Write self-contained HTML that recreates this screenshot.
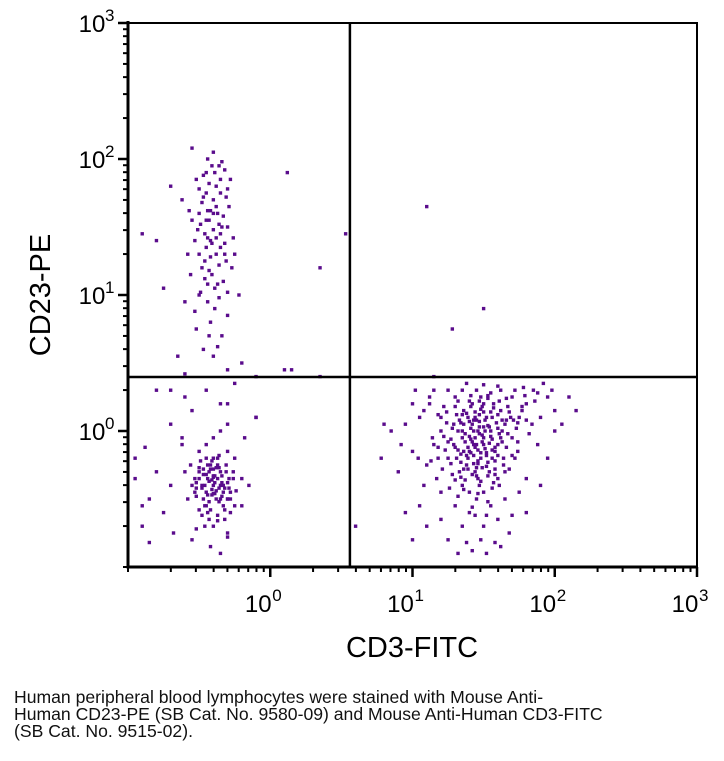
<!DOCTYPE html>
<html><head><meta charset="utf-8">
<style>
body{margin:0;background:#fff;width:724px;height:761px;overflow:hidden;font-family:"Liberation Sans",sans-serif;}
#cap{position:absolute;left:14px;top:689px;font-size:17.6px;line-height:17px;color:#111;white-space:nowrap;}
</style></head>
<body>
<svg id="chart" width="724" height="690" style="position:absolute;left:0;top:0"></svg>
<div id="cap">Human peripheral blood lymphocytes were stained with Mouse Anti-<br>Human CD23-PE (SB Cat. No. 9580-09) and Mouse Anti-Human CD3-FITC<br>(SB Cat. No. 9515-02).</div>
<script>
// log10 coordinates [x, y, x, y, ...]
const cd23Pos = [-0.45,1.9,-0.4,2.05,-0.5,1.6,-0.35,1.75,-0.42,1.4,-0.3,1.5,-0.48,1.2,-0.38,1.3,-0.55,1.55,-0.33,1.1,-0.44,0.95,-0.4,1.7,-0.28,1.85,-0.52,1.85,-0.36,1.95,-0.46,1.45,-0.31,1.25,-0.39,1.05,-0.5,1.0,-0.42,0.8,-0.34,0.7,-0.47,0.6,-0.25,1.3,-0.58,1.3,-0.62,1.7,-0.37,1.6,-0.43,1.55,-0.41,1.15,-0.29,1.65,-0.53,1.4,-0.45,1.75,-0.35,1.35,-0.38,1.8,-0.48,1.68,-0.32,1.92,-0.44,2.0,-0.26,1.42,-0.56,1.15,-0.4,1.48,-0.36,1.22,-0.5,1.3,-0.44,1.62,-0.33,1.58,-0.47,1.88,-0.39,0.9,-0.3,0.85,-0.52,0.75,-0.22,1.0,-0.6,0.95,-0.7,1.8,-0.8,1.4,-0.75,1.05,-0.65,0.55,-0.4,0.55,-0.3,0.45,-0.2,0.5,-0.55,2.08,-0.42,1.28,-0.35,1.45,-0.45,1.35,-0.38,1.65,-0.49,1.52,-0.31,1.72,-0.43,1.82,-0.37,1.08,-0.46,1.12,-0.34,1.98,-0.27,1.2,-0.57,1.62,-0.41,1.95,-0.36,1.52,-0.5,1.78,-0.44,1.42,-0.32,1.38,-0.4,1.6,-0.46,1.25,-0.3,1.02,-0.53,0.88,-0.43,0.7,-0.37,0.62,0.12,1.9,0.35,1.2,0.53,1.45,-0.9,1.45,-0.1,0.4,0.15,0.45,-0.41,1.38,-0.34,1.5,-0.47,1.72,-0.39,1.9,-0.43,1.18,-0.36,0.98,-0.49,1.02,-0.32,1.3,-0.45,1.55,-0.38,1.42,-0.42,1.62,-0.3,1.78,-0.51,1.48,-0.35,1.85,-0.44,1.08];
const cd3Pos = [1.1,1.65,1.28,0.75,1.5,0.9,1.15,0.4];
const dblNeg = [-0.4,-0.4,-0.35,-0.3,-0.45,-0.45,-0.38,-0.5,-0.42,-0.25,-0.3,-0.38,-0.5,-0.35,-0.33,-0.55,-0.47,-0.28,-0.4,-0.2,-0.36,-0.42,-0.44,-0.6,-0.28,-0.45,-0.52,-0.48,-0.39,-0.33,-0.41,-0.36,-0.34,-0.48,-0.46,-0.4,-0.37,-0.25,-0.43,-0.3,-0.31,-0.3,-0.49,-0.22,-0.55,-0.4,-0.25,-0.55,-0.32,-0.65,-0.4,-0.7,-0.48,-0.62,-0.58,-0.5,-0.6,-0.3,-0.25,-0.2,-0.2,-0.35,-0.3,-0.15,-0.45,-0.1,-0.4,-0.05,-0.5,-0.15,-0.35,0.0,-0.62,-0.1,-0.7,-0.4,-0.75,-0.6,-0.8,-0.3,-0.85,-0.5,-0.9,-0.7,-0.95,-0.2,-0.68,-0.75,-0.55,-0.8,-0.42,-0.85,-0.35,-0.9,-0.3,-0.75,-0.2,-0.55,-0.15,-0.4,-0.18,-0.05,-0.1,0.1,-0.3,0.2,-0.55,0.15,-0.45,0.3,-0.25,0.35,-0.6,0.25,-0.7,0.05,-0.4,-0.33,-0.38,-0.44,-0.43,-0.52,-0.36,-0.27,-0.41,-0.47,-0.29,-0.42,-0.47,-0.32,-0.35,-0.5,-0.39,-0.38,-0.32,-0.58,-0.45,-0.55,-0.5,-0.27,-0.26,-0.35,-0.37,-0.2,-0.48,-0.4,-0.34,-0.38,-0.44,-0.35,-0.28,-0.5,-0.52,-0.42,-0.42,-0.28,-0.4,-0.46,-0.33,-0.4,-0.53,-0.35,-0.24,-0.44,-0.3,-0.5,-0.45,-0.2,-0.37,-0.66,-0.46,-0.7,-0.3,-0.78,-0.52,-0.72,-0.9,-0.55,-0.95,-0.35,-0.85,-0.82,-0.88,-0.12,-0.62,-0.05,-0.3,0.05,-0.1,0.1,0.35,0.4,-0.6,0.42,-0.7,0.3,-0.35,0.2,0.1,0.45,-0.8,0.3,-0.41,-0.43,-0.37,-0.35,-0.43,-0.37,-0.39,-0.46,-0.35,-0.4,-0.45,-0.32,-0.33,-0.45,-0.47,-0.5,-0.4,-0.28,-0.36,-0.52,-0.42,-0.58,-0.3,-0.5,-0.48,-0.42,-0.38,-0.27,-0.44,-0.25,-0.34,-0.33,-0.5,-0.3,-0.29,-0.35,-0.46,-0.55,-0.52,-0.38,-0.37,-0.62,-0.41,-0.22,-0.32,-0.42,-0.26,-0.3,-0.53,-0.45,-0.43,-0.65,-0.36,-0.18,-0.5,-0.58,-0.28,-0.6,-0.56,-0.25,-0.4,-0.34,-0.44,-0.47,-0.31,-0.25];
const cd3Neg23 = [1.45,-0.1,1.5,-0.05,1.4,-0.15,1.55,0.0,1.35,-0.05,1.48,-0.2,1.42,0.05,1.6,-0.1,1.3,-0.12,1.52,0.1,1.38,-0.25,1.58,-0.22,1.46,0.0,1.33,0.08,1.65,0.05,1.25,-0.2,1.44,-0.3,1.54,-0.3,1.36,0.15,1.62,0.15,1.7,-0.05,1.2,0.0,1.5,0.2,1.4,0.22,1.28,-0.32,1.6,-0.35,1.47,-0.4,1.35,-0.4,1.75,0.1,1.15,-0.1,1.18,0.12,1.72,-0.2,1.8,0.2,1.55,0.28,1.3,0.25,1.1,-0.25,1.45,-0.5,1.55,-0.55,1.4,-0.6,1.5,-0.7,1.6,-0.65,1.35,-0.7,1.48,-0.8,1.58,-0.82,1.42,-0.88,1.3,-0.55,1.65,-0.5,1.68,-0.75,1.25,-0.8,1.85,0.3,1.9,0.1,1.95,0.25,2.0,0.15,1.05,0.1,1.0,-0.15,0.95,0.05,0.9,-0.3,1.08,-0.4,1.12,0.25,1.42,-0.08,1.51,-0.13,1.37,-0.02,1.47,0.07,1.56,-0.06,1.43,-0.18,1.34,-0.17,1.61,-0.02,1.53,0.04,1.39,0.1,1.49,-0.27,1.58,-0.15,1.32,0.0,1.44,0.14,1.66,-0.12,1.27,-0.06,1.46,-0.35,1.63,0.08,1.41,0.02,1.52,-0.18,1.36,-0.28,1.57,0.2,1.45,0.3,1.7,0.25,1.22,0.18,1.68,-0.28,1.26,-0.42,1.74,-0.08,1.78,0.32,1.82,-0.02,1.62,0.3,1.5,0.34,1.35,0.3,1.15,0.3,1.2,-0.45,1.88,-0.1,1.92,0.35,1.05,-0.55,1.02,0.3,0.85,0.0,0.95,-0.6,1.2,-0.65,1.75,-0.45,1.8,-0.35,2.05,0.05,2.1,0.25,1.4,-0.45,1.5,-0.45,1.56,-0.42,1.44,-0.62,1.62,-0.85,1.52,-0.9,1.38,-0.82,1.32,-0.9,1.7,-0.62,1.47,0.12,1.43,-0.24,1.53,-0.23,1.39,-0.12,1.49,-0.08,1.59,0.06,1.34,-0.23,1.41,0.18,1.55,0.14,1.64,-0.2,1.31,0.12,1.48,0.25,1.37,-0.36,1.57,-0.38,1.67,0.18,1.24,0.06,1.73,0.02,1.29,-0.1,1.21,-0.28,1.77,0.15,1.44,-0.05,1.51,0.0,1.46,-0.14,1.4,-0.04,1.54,-0.09,1.36,0.05,1.6,0.02,1.48,0.16,1.3,0.18,1.65,-0.3,1.14,-0.05,1.17,-0.35,1.84,0.05,1.12,0.2,1.86,0.22,1.6,0.33,1.38,0.35,1.25,0.3,1.72,0.3,1.98,0.3,2.0,0.0,0.6,-0.7,0.78,-0.2,0.8,0.05,1.0,-0.8,1.1,-0.7,1.8,-0.6,1.9,-0.4,2.15,0.15,1.95,-0.2,1.43,-0.1,1.47,-0.02,1.52,-0.16,1.39,-0.2,1.56,0.1,1.33,-0.3,1.45,0.08,1.63,-0.08,1.35,0.12,1.58,-0.28,1.42,-0.32,1.5,0.14,1.41,0.26,1.69,0.1,1.28,0.02,1.23,-0.14,1.66,0.24,1.53,0.24,1.46,-0.24,1.61,-0.4,1.32,-0.48,1.18,-0.2,1.74,-0.15,1.8,0.08,1.88,0.28,1.08,0.15,1.0,0.2,0.92,-0.1,1.04,-0.2,1.44,-0.12,1.49,-0.03,1.41,-0.16,1.54,0.03,1.37,-0.08,1.46,-0.22,1.43,0.08,1.58,-0.12,1.32,-0.14,1.51,0.08,1.39,-0.28,1.56,-0.2,1.47,0.03,1.34,0.06,1.63,0.0,1.27,-0.24,1.45,-0.33,1.53,-0.33,1.38,0.13,1.6,0.12,1.67,-0.02,1.22,-0.04,1.49,0.18,1.42,0.2,1.3,-0.36,1.58,-0.32,1.48,-0.37,1.36,-0.43,1.71,0.08,1.18,-0.12,1.2,0.1,1.7,-0.18,1.77,0.18,1.53,0.26,1.32,0.22,1.13,-0.22,1.46,-0.46,1.53,-0.52,1.42,-0.56,1.52,-0.62,1.41,-0.06,1.55,-0.04,1.36,-0.15,1.5,-0.1,1.62,-0.05,1.44,0.1,1.29,0.05,1.66,0.08,1.48,-0.16,1.4,0.07,1.57,0.17,1.34,-0.34,1.64,-0.25,1.25,-0.08,1.74,0.06,1.52,-0.26,1.47,0.22,1.38,-0.18,1.6,-0.18,1.43,0.0,1.5,0.03,1.45,-0.27,1.35,0.0,1.56,-0.14,1.31,-0.2,1.68,0.14,1.24,0.14,1.79,0.26,1.61,0.22];

const svg=document.getElementById('chart');
const NS='http://www.w3.org/2000/svg';
const X0=128,X1=697,Y0=23,Y1=567;
const xs=v=>X0+(v+1)/4*(X1-X0);
const ys=v=>Y1-(v+1)/4*(Y1-Y0);
function mk(t,a){const e=document.createElementNS(NS,t);for(const k in a)e.setAttribute(k,a[k]);svg.appendChild(e);return e;}
const pops=[cd23Pos,cd3Pos,dblNeg,cd3Neg23];
pops.forEach(p=>{for(let i=0;i<p.length;i+=2){
 const d=mk('rect',{x:xs(p[i])-1.7,y:ys(p[i+1])-1.7,width:3.4,height:3.4,fill:'#5a0c8c'});
 
 
}});
const fr=mk('rect',{x:X0,y:Y0,width:X1-X0,height:Y1-Y0,fill:'none',stroke:'#000','stroke-width':2});

const ax1=mk('line',{x1:X0,y1:Y0-2,x2:X0,y2:Y1+1.5,stroke:'#000','stroke-width':3});

const ax2=mk('line',{x1:X0-1.5,y1:Y1,x2:X1+1,y2:Y1,stroke:'#000','stroke-width':3});

const gx=0.56, gy=0.397;
const qv=mk('line',{x1:xs(gx),y1:Y0,x2:xs(gx),y2:Y1,stroke:'#000','stroke-width':2.5});

const qh=mk('line',{x1:X0,y1:ys(gy),x2:X1,y2:ys(gy),stroke:'#000','stroke-width':2.5});

const decades=[-1,0,1,2];
const tickLabels=['10','10','10','10'];
const tickExp=['0','1','2','3'];
decades.forEach(d=>{for(let m=1;m<=10;m++){
 const v=d+Math.log10(m); if(v<=-1.001||v>3.001)continue;
 const major=(m===10);
 const L=major?10:5;
 const t1=mk('line',{x1:xs(v),y1:Y1,x2:xs(v),y2:Y1+L,stroke:'#000','stroke-width':major?2.5:2});
 
 const t2=mk('line',{x1:X0,y1:ys(v),x2:X0-L,y2:ys(v),stroke:'#000','stroke-width':major?2.5:2});
 
}});
[0,1,2,3].forEach((v,i)=>{
 const tx=mk('text',{x:xs(v)-12,y:Y1+45,'font-size':24,'font-family':'Liberation Sans, sans-serif','text-anchor':'middle'});
 
 tx.textContent=tickLabels[i];
 const sx=mk('text',{x:xs(v)+2,y:Y1+34,'font-size':17,'font-family':'Liberation Sans, sans-serif'});
 
 sx.textContent=tickExp[i];
 const ty=mk('text',{x:X0-36,y:ys(v)+9,'font-size':24,'font-family':'Liberation Sans, sans-serif','text-anchor':'middle'});
 
 ty.textContent=tickLabels[i];
 const sy=mk('text',{x:X0-23,y:ys(v)-2,'font-size':17,'font-family':'Liberation Sans, sans-serif'});
 
 sy.textContent=tickExp[i];
});
const xt=mk('text',{x:412,y:657,'font-size':29,'font-family':'Liberation Sans, sans-serif','text-anchor':'middle'});

xt.textContent='CD3-FITC';
const yt=mk('text',{x:0,y:0,'font-size':29,'font-family':'Liberation Sans, sans-serif','text-anchor':'middle',transform:'translate(50,295) rotate(-90)'});

yt.textContent='CD23-PE';
</script>
</body></html>
